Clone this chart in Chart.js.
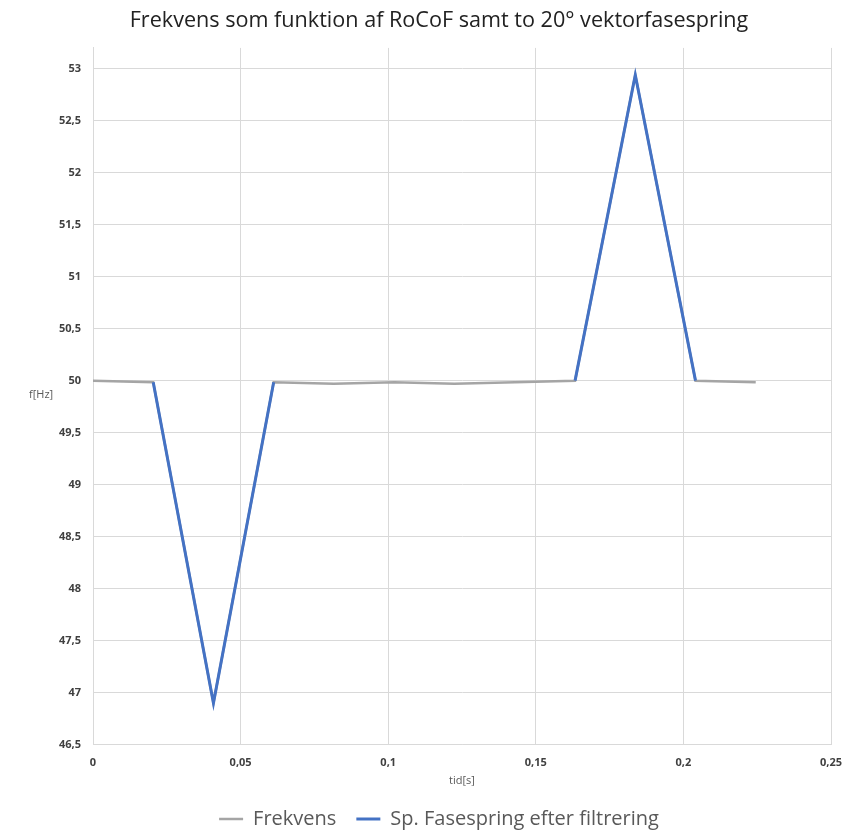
<!DOCTYPE html>
<html>
<head>
<meta charset="utf-8">
<script src="https://cdn.jsdelivr.net/npm/chart.js@4/dist/chart.umd.min.js"></script>
<style>
  body { margin: 0; background: #fff; }
  #wrap { width: 859px; height: 831px; }
</style>
</head>
<body>
<div id="wrap"><canvas id="freq"></canvas></div>
<script>
// tid i sekunder (1/49 s mellem punkter)
const tid = [0, 0.0204, 0.0408, 0.0612, 0.0816, 0.1020, 0.1224, 0.1429, 0.1633, 0.1837, 0.2041, 0.2245];
const frekvens = [50.0, 49.985, 46.9, 49.985, 49.97, 49.985, 49.97, 49.985, 50.0, 52.94, 50.0, 49.985];
const fasespring = [null, 49.985, 46.9, 49.985, null, null, null, null, 50.0, 52.94, 50.0, null];
const xTicks = [0, 0.05, 0.1, 0.15, 0.2, 0.25];
const yTicks = [46.5, 47, 47.5, 48, 48.5, 49, 49.5, 50, 50.5, 51, 51.5, 52, 52.5, 53];

const komma = (v) => String(Math.round(v * 1000) / 1000).replace(".", ",");

const yTitle = {
  id: "yTitle",
  afterDraw(chart) {
    const ctx = chart.ctx;
    const y = chart.scales.y.getPixelForValue(49.86);
    ctx.save();
    ctx.font = "11px 'Open Sans'";
    ctx.fillStyle = "#595959";
    ctx.textAlign = "left";
    ctx.textBaseline = "middle";
    ctx.fillText("f[Hz]", 29, y);
    ctx.restore();
  },
};

new Chart(document.getElementById("freq"), {
  type: "line",
  data: {
    datasets: [
      {
        label: "Frekvens",
        data: tid.map((t, i) => ({ x: t, y: frekvens[i] })),
        borderColor: "#a5a5a5",
        backgroundColor: "#a5a5a5",
        borderWidth: 2.5,
        pointRadius: 0,
        tension: 0,
        order: 2,
      },
      {
        label: "Sp. Fasespring efter filtrering",
        data: tid.map((t, i) => ({ x: t, y: fasespring[i] })),
        borderColor: "#4472c4",
        backgroundColor: "#4472c4",
        borderWidth: 3,
        pointRadius: 0,
        tension: 0,
        spanGaps: false,
        order: 1,
      },
    ],
  },
  options: {
    responsive: true,
    maintainAspectRatio: false,
    animation: false,
    layout: { padding: { left: 47, right: 28, top: 8, bottom: -8 } },
    plugins: {
      title: {
        display: true,
        text: "Frekvens som funktion af RoCoF samt to 20° vektorfasespring",
        color: "#222",
        font: { family: "'Open Sans'", size: 21.6, weight: "normal" },
        padding: { top: 0, bottom: 14 },
      },
      legend: {
        position: "bottom",
        labels: {
          usePointStyle: true,
          pointStyle: "line",
          pointStyleWidth: 24,
          color: "#595959",
          font: { family: "'Open Sans'", size: 20 },
          padding: 20,
          sort: (a, b) => a.datasetIndex - b.datasetIndex,
        },
      },
      tooltip: { enabled: false },
    },
    scales: {
      x: {
        type: "linear",
        min: 0,
        max: 0.25,
        afterBuildTicks: (s) => { s.ticks = xTicks.map((v) => ({ value: v })); },
        grid: { color: "#d9d9d9", drawTicks: false },
        border: { color: "#d9d9d9" },
        ticks: {
          color: "#404040",
          font: { family: "'Open Sans'", size: 11, weight: "bold" },
          padding: 12,
          maxRotation: 0,
          callback: (v) => komma(v),
        },
        title: {
          display: true,
          text: "tid[s]",
          color: "#595959",
          font: { family: "'Open Sans'", size: 11 },
          padding: { top: -8, bottom: 2 },
        },
      },
      y: {
        type: "linear",
        min: 46.5,
        max: 53.2,
        afterBuildTicks: (s) => { s.ticks = yTicks.map((v) => ({ value: v })); },
        grid: { color: "#d9d9d9", drawTicks: false },
        border: { color: "#d9d9d9" },
        ticks: {
          color: "#404040",
          font: { family: "'Open Sans'", size: 11, weight: "bold" },
          padding: 12,
          callback: (v) => komma(v),
        },
      },
    },
  },
  plugins: [yTitle],
});
</script>
</body>
</html>
